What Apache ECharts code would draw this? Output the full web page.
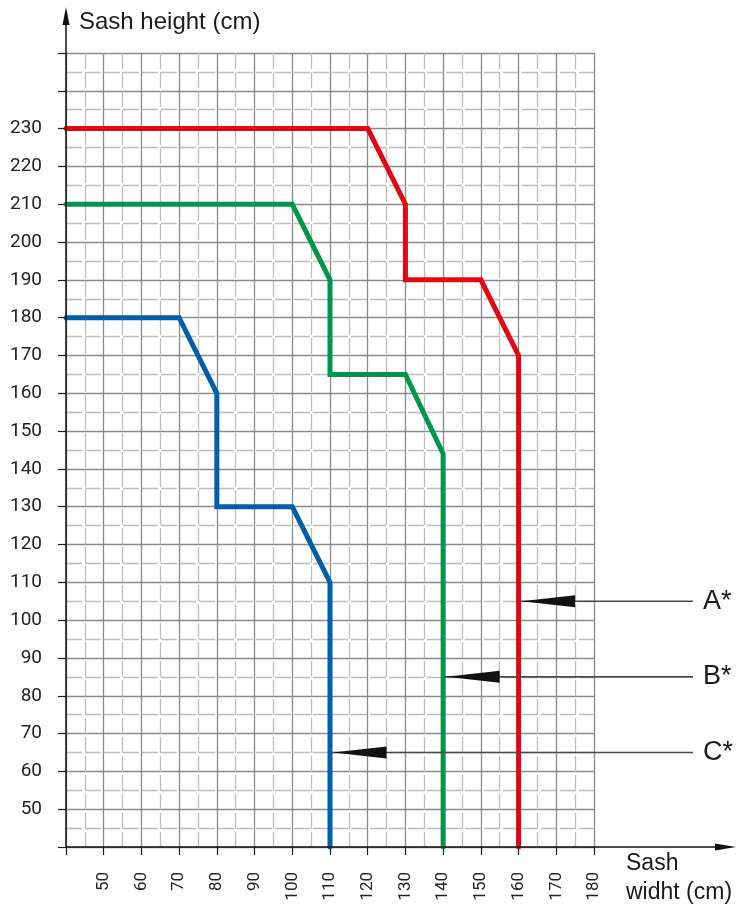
<!DOCTYPE html>
<html>
<head>
<meta charset="utf-8">
<script src="https://cdn.jsdelivr.net/npm/echarts@6/dist/echarts.min.js"></script>
<style>
  html, body { margin: 0; padding: 0; background: #fff; }
  #chart { width: 736px; height: 908px; }
</style>
</head>
<body>
<div id="chart"></div>
<script>
// Sash width / height limits for three hardware sizes
const widthTicks = [50, 60, 70, 80, 90, 100, 110, 120, 130, 140, 150, 160, 170, 180];
const heightTicks = [50, 60, 70, 80, 90, 100, 110, 120, 130, 140, 150, 160, 170, 180, 190, 200, 210, 220, 230];

const limitA = [[40, 230], [120, 230], [130, 210], [130, 190], [150, 190], [160, 170], [160, 40]];
const limitB = [[40, 210], [100, 210], [110, 190], [110, 165], [130, 165], [140, 144], [140, 40]];
const limitC = [[40, 180], [70, 180], [80, 160], [80, 130], [100, 130], [110, 110], [110, 40]];

const pointerLabels = ['A*', 'B*', 'C*'];
const pointerWidths = [160, 140, 110];
const pointerHeights = [105, 85, 65];
const pointerHeadLength = 15; // arrow head length in cm along the width axis

const AXIS_MIN_X = 40, AXIS_MAX_X = 180;
const AXIS_MIN_Y = 40, AXIS_MAX_Y = 250;

const chart = echarts.init(document.getElementById('chart'), null, { renderer: 'canvas' });

const tickFont = 'Roboto, "DejaVu Sans", sans-serif';
const textFont = '"Liberation Sans", Arial, sans-serif';

function lineSeries(name, data, color) {
  return {
    name: name,
    type: 'line',
    data: data,
    symbol: 'none',
    clip: false,
    z: 5,
    lineStyle: { color: color, width: 5, cap: 'round', join: 'miter' }
  };
}

const majorGrid = { color: '#8a8a8a', width: 1.3 };
const minorGrid = { color: '#bdbdbd', width: 1.3, type: [16, 3] };

const option = {
  animation: false,
  backgroundColor: '#ffffff',
  grid: { left: 66, right: 142, top: 53, bottom: 61, containLabel: false },
  xAxis: {
    type: 'value',
    min: AXIS_MIN_X, max: AXIS_MAX_X, interval: 10,
    axisLine: { show: false },
    axisTick: { show: true, length: 8, lineStyle: { color: '#1a1a1a', width: 1.2 } },
    axisLabel: {
      rotate: 90, margin: 25,
      fontFamily: tickFont, fontSize: 17, color: '#222',
      formatter: v => widthTicks.includes(v) ? String(v) : ''
    },
    splitLine: { show: true, lineStyle: majorGrid },
    minorTick: { show: false, splitNumber: 2 },
    minorSplitLine: { show: true, lineStyle: minorGrid },
    name: 'Sash\nwidht (cm)',
    nameLocation: 'end',
    nameGap: 32,
    nameTextStyle: { fontFamily: textFont, fontSize: 23, color: '#1a1a1a', align: 'left', verticalAlign: 'top', lineHeight: 29, padding: [2, 0, 0, 0] }
  },
  yAxis: {
    type: 'value',
    min: AXIS_MIN_Y, max: AXIS_MAX_Y, interval: 10,
    axisLine: { show: false },
    axisTick: { show: true, length: 8, lineStyle: { color: '#1a1a1a', width: 1.2 } },
    axisLabel: {
      margin: 24,
      fontFamily: tickFont, fontSize: 19, color: '#222',
      formatter: v => heightTicks.includes(v) ? String(v) : ''
    },
    splitLine: { show: true, lineStyle: majorGrid },
    minorTick: { show: false, splitNumber: 2 },
    minorSplitLine: { show: true, lineStyle: minorGrid },
    name: 'Sash height (cm)',
    nameLocation: 'end',
    nameGap: 31,
    nameTextStyle: { fontFamily: textFont, fontSize: 24, color: '#1a1a1a', align: 'left', verticalAlign: 'middle', padding: [0, 0, 0, 13] }
  },
  series: [
    lineSeries('A', limitA, '#e30613'),
    lineSeries('B', limitB, '#00964a'),
    lineSeries('C', limitC, '#005eaa')
  ]
};

chart.setOption(option);

// Axis lines with arrows and the A*/B*/C* pointers, placed through the grid's scales
function px(x, y) { return chart.convertToPixel({ gridIndex: 0 }, [x, y]); }

const origin = px(AXIS_MIN_X, AXIS_MIN_Y);
const axisColor = '#111';

const graphics = [
  // vertical axis
  { type: 'line', z: 10, shape: { x1: origin[0], y1: origin[1], x2: origin[0], y2: 14 }, style: { stroke: axisColor, lineWidth: 1.5 } },
  { type: 'polygon', z: 10, shape: { points: [[origin[0], 7], [origin[0] - 3.5, 25], [origin[0] + 3.5, 25]] }, style: { fill: axisColor } },
  // horizontal axis
  { type: 'line', z: 10, shape: { x1: origin[0], y1: origin[1], x2: 722, y2: origin[1] }, style: { stroke: axisColor, lineWidth: 1.5 } },
  { type: 'polygon', z: 10, shape: { points: [[736, origin[1]], [715, origin[1] - 3.5], [715, origin[1] + 3.5]] }, style: { fill: axisColor } }
];

const pointerLineEnd = 693;
pointerLabels.forEach((label, i) => {
  const tip = px(pointerWidths[i], pointerHeights[i]);
  const base = px(pointerWidths[i] + pointerHeadLength, pointerHeights[i]);
  graphics.push(
    { type: 'line', z: 8, shape: { x1: tip[0], y1: tip[1], x2: pointerLineEnd, y2: tip[1] }, style: { stroke: '#4a4a4a', lineWidth: 1.6 } },
    { type: 'polygon', z: 9, shape: { points: [[tip[0] + 3, tip[1]], [base[0], tip[1] - 6], [base[0], tip[1] + 6]] }, style: { fill: '#111' } },
    { type: 'text', z: 9, x: pointerLineEnd + 10, y: tip[1], style: { text: label, font: '27px "Liberation Sans", Arial, sans-serif', fill: '#1a1a1a', verticalAlign: 'middle' } }
  );
});

chart.setOption({ graphic: graphics });
</script>
</body>
</html>
